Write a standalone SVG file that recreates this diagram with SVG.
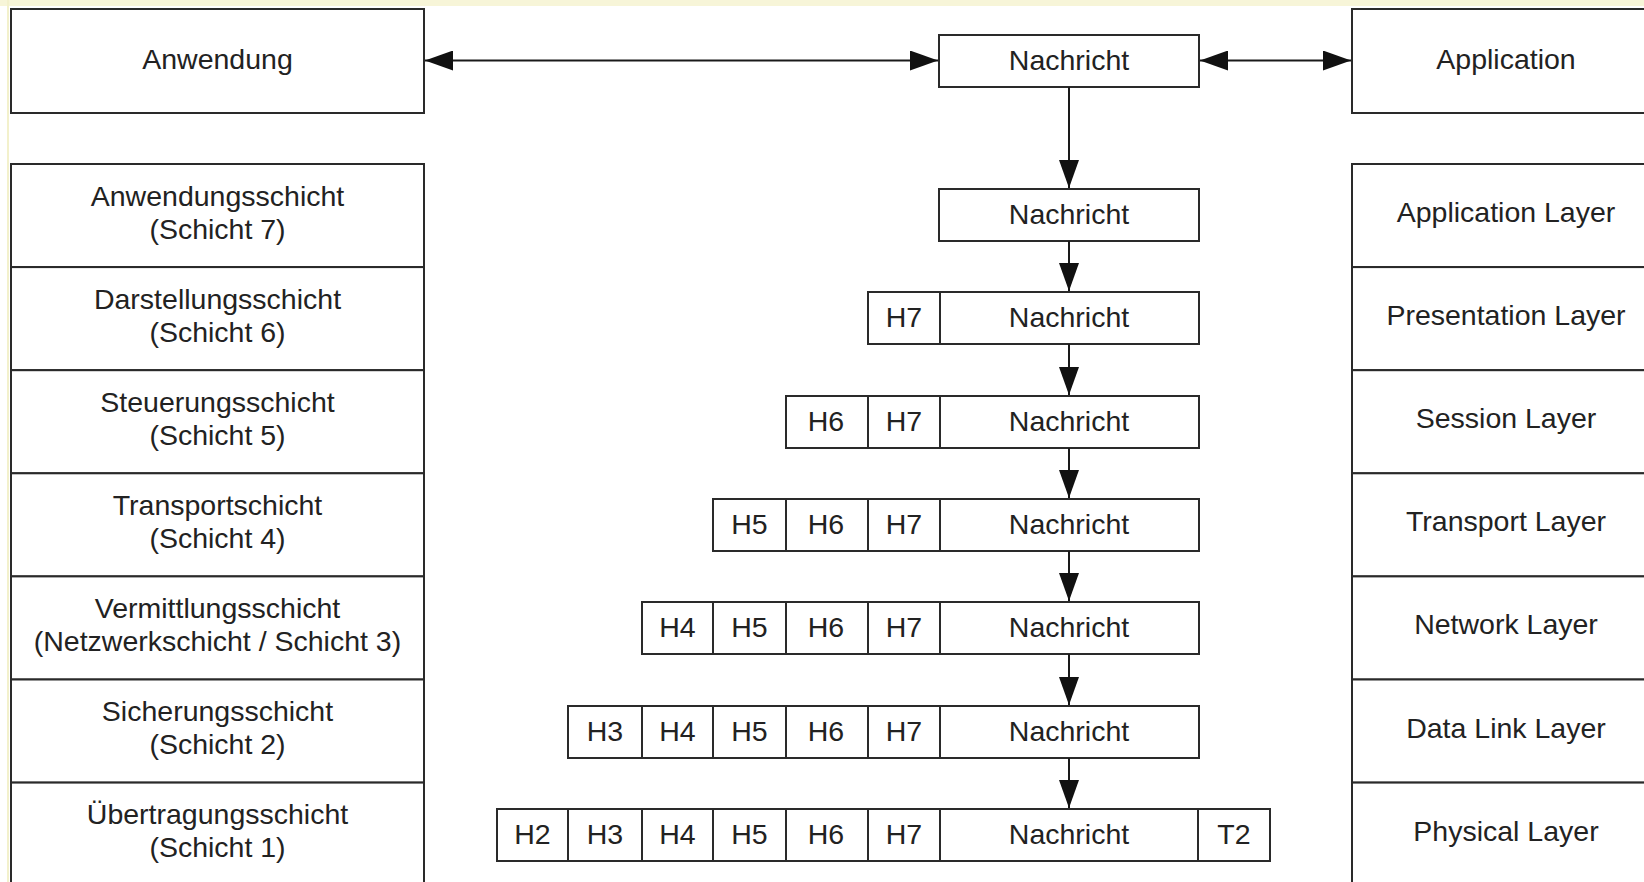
<svg xmlns="http://www.w3.org/2000/svg" width="1644" height="882" viewBox="0 0 1644 882">
<style>
.box{fill:#fff;stroke:#2a2a2a;stroke-width:2}
.t{font-family:"Liberation Sans",Arial,sans-serif;font-size:28.5px;fill:#222;text-anchor:middle}
.c{stroke:#1a1a1a;stroke-width:2;fill:none}
</style>
<defs>
<marker id="ah" markerUnits="userSpaceOnUse" markerWidth="28" markerHeight="20" refX="28" refY="10" orient="auto-start-reverse" viewBox="0 0 28 20">
<path d="M0,0 L28,10 L0,20 z" fill="#111"/>
</marker>
</defs>
<rect x="0" y="0" width="1644" height="882" fill="#fff"/>
<rect x="0" y="0" width="1644" height="6" fill="#f7f5d8"/>
<rect x="7" y="0" width="2" height="882" fill="#f3f1cc"/>

<g id="anwendung"><rect class="box" x="11" y="9" width="413" height="104"/><text class="t" x="217.5" y="69">Anwendung</text></g>
<g id="application"><rect class="box" x="1352" y="9" width="310" height="104"/><text class="t" x="1506" y="69">Application</text></g>
<g id="nachricht-top"><rect class="box" x="939" y="35" width="260" height="52"/><text class="t" x="1069" y="69.5">Nachricht</text></g>

<g id="left-layers">
<g id="l7"><rect class="box" x="11" y="164" width="413" height="103.1"/><text class="t" x="217.5" y="205.5">Anwendungsschicht</text><text class="t" x="217.5" y="238.5">(Schicht 7)</text></g>
<g id="l6"><rect class="box" x="11" y="267.1" width="413" height="103.1"/><text class="t" x="217.5" y="308.6">Darstellungsschicht</text><text class="t" x="217.5" y="341.6">(Schicht 6)</text></g>
<g id="l5"><rect class="box" x="11" y="370.2" width="413" height="103.1"/><text class="t" x="217.5" y="411.7">Steuerungsschicht</text><text class="t" x="217.5" y="444.7">(Schicht 5)</text></g>
<g id="l4"><rect class="box" x="11" y="473.3" width="413" height="103.1"/><text class="t" x="217.5" y="514.8">Transportschicht</text><text class="t" x="217.5" y="547.8">(Schicht 4)</text></g>
<g id="l3"><rect class="box" x="11" y="576.4" width="413" height="103.1"/><text class="t" x="217.5" y="617.9">Vermittlungsschicht</text><text class="t" x="217.5" y="650.9">(Netzwerkschicht / Schicht 3)</text></g>
<g id="l2"><rect class="box" x="11" y="679.5" width="413" height="103.1"/><text class="t" x="217.5" y="721">Sicherungsschicht</text><text class="t" x="217.5" y="754">(Schicht 2)</text></g>
<g id="l1"><rect class="box" x="11" y="782.6" width="413" height="103.1"/><text class="t" x="217.5" y="824.1">Übertragungsschicht</text><text class="t" x="217.5" y="857.1">(Schicht 1)</text></g>
</g>

<g id="right-layers">
<g id="r7"><rect class="box" x="1352" y="164" width="310" height="103.1"/><text class="t" x="1506" y="222">Application Layer</text></g>
<g id="r6"><rect class="box" x="1352" y="267.1" width="310" height="103.1"/><text class="t" x="1506" y="325.1">Presentation Layer</text></g>
<g id="r5"><rect class="box" x="1352" y="370.2" width="310" height="103.1"/><text class="t" x="1506" y="428.2">Session Layer</text></g>
<g id="r4"><rect class="box" x="1352" y="473.3" width="310" height="103.1"/><text class="t" x="1506" y="531.3">Transport Layer</text></g>
<g id="r3"><rect class="box" x="1352" y="576.4" width="310" height="103.1"/><text class="t" x="1506" y="634.4">Network Layer</text></g>
<g id="r2"><rect class="box" x="1352" y="679.5" width="310" height="103.1"/><text class="t" x="1506" y="737.5">Data Link Layer</text></g>
<g id="r1"><rect class="box" x="1352" y="782.6" width="310" height="103.1"/><text class="t" x="1506" y="840.6">Physical Layer</text></g>
</g>

<g id="pdu7"><rect class="box" x="939" y="189" width="260" height="52"/><text class="t" x="1069" y="223.5">Nachricht</text></g>
<g id="pdu6">
<rect class="box" x="868" y="292" width="72" height="52"/><text class="t" x="904" y="326.5">H7</text>
<rect class="box" x="940" y="292" width="259" height="52"/><text class="t" x="1069" y="326.5">Nachricht</text>
</g>
<g id="pdu5">
<rect class="box" x="786" y="396" width="82" height="52"/><text class="t" x="826" y="430.5">H6</text>
<rect class="box" x="868" y="396" width="72" height="52"/><text class="t" x="904" y="430.5">H7</text>
<rect class="box" x="940" y="396" width="259" height="52"/><text class="t" x="1069" y="430.5">Nachricht</text>
</g>
<g id="pdu4">
<rect class="box" x="713" y="499" width="73" height="52"/><text class="t" x="749.5" y="533.5">H5</text>
<rect class="box" x="786" y="499" width="82" height="52"/><text class="t" x="826" y="533.5">H6</text>
<rect class="box" x="868" y="499" width="72" height="52"/><text class="t" x="904" y="533.5">H7</text>
<rect class="box" x="940" y="499" width="259" height="52"/><text class="t" x="1069" y="533.5">Nachricht</text>
</g>
<g id="pdu3">
<rect class="box" x="642" y="602" width="71" height="52"/><text class="t" x="677.5" y="636.5">H4</text>
<rect class="box" x="713" y="602" width="73" height="52"/><text class="t" x="749.5" y="636.5">H5</text>
<rect class="box" x="786" y="602" width="82" height="52"/><text class="t" x="826" y="636.5">H6</text>
<rect class="box" x="868" y="602" width="72" height="52"/><text class="t" x="904" y="636.5">H7</text>
<rect class="box" x="940" y="602" width="259" height="52"/><text class="t" x="1069" y="636.5">Nachricht</text>
</g>
<g id="pdu2">
<rect class="box" x="568" y="706" width="74" height="52"/><text class="t" x="605" y="740.5">H3</text>
<rect class="box" x="642" y="706" width="71" height="52"/><text class="t" x="677.5" y="740.5">H4</text>
<rect class="box" x="713" y="706" width="73" height="52"/><text class="t" x="749.5" y="740.5">H5</text>
<rect class="box" x="786" y="706" width="82" height="52"/><text class="t" x="826" y="740.5">H6</text>
<rect class="box" x="868" y="706" width="72" height="52"/><text class="t" x="904" y="740.5">H7</text>
<rect class="box" x="940" y="706" width="259" height="52"/><text class="t" x="1069" y="740.5">Nachricht</text>
</g>
<g id="pdu1">
<rect class="box" x="497" y="809" width="71" height="52"/><text class="t" x="532.5" y="843.5">H2</text>
<rect class="box" x="568" y="809" width="74" height="52"/><text class="t" x="605" y="843.5">H3</text>
<rect class="box" x="642" y="809" width="71" height="52"/><text class="t" x="677.5" y="843.5">H4</text>
<rect class="box" x="713" y="809" width="73" height="52"/><text class="t" x="749.5" y="843.5">H5</text>
<rect class="box" x="786" y="809" width="82" height="52"/><text class="t" x="826" y="843.5">H6</text>
<rect class="box" x="868" y="809" width="72" height="52"/><text class="t" x="904" y="843.5">H7</text>
<rect class="box" x="940" y="809" width="258" height="52"/><text class="t" x="1069" y="843.5">Nachricht</text>
<rect class="box" x="1198" y="809" width="72" height="52"/><text class="t" x="1234" y="843.5">T2</text>
</g>

<g id="connectors">
<line class="c" x1="425" y1="60.5" x2="938" y2="60.5" marker-start="url(#ah)" marker-end="url(#ah)"/>
<line class="c" x1="1200" y1="60.5" x2="1351" y2="60.5" marker-start="url(#ah)" marker-end="url(#ah)"/>
<line class="c" x1="1069" y1="87" x2="1069" y2="188" marker-end="url(#ah)"/>
<line class="c" x1="1069" y1="241" x2="1069" y2="291" marker-end="url(#ah)"/>
<line class="c" x1="1069" y1="344" x2="1069" y2="395" marker-end="url(#ah)"/>
<line class="c" x1="1069" y1="448" x2="1069" y2="498" marker-end="url(#ah)"/>
<line class="c" x1="1069" y1="551" x2="1069" y2="601" marker-end="url(#ah)"/>
<line class="c" x1="1069" y1="654" x2="1069" y2="705" marker-end="url(#ah)"/>
<line class="c" x1="1069" y1="758" x2="1069" y2="808" marker-end="url(#ah)"/>
</g>
</svg>
